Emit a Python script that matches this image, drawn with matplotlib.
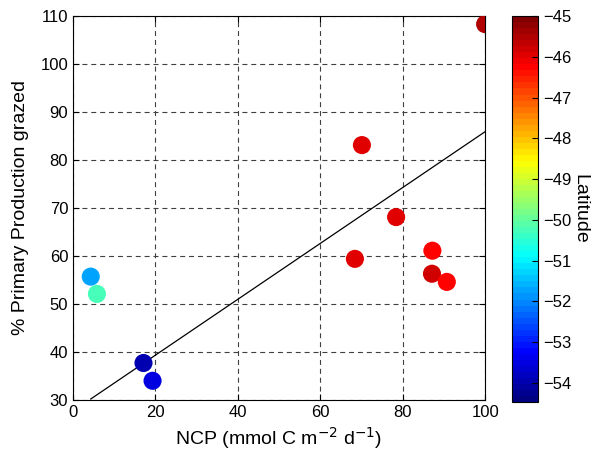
import numpy as np
import matplotlib.pyplot as plt
from matplotlib.colors import LinearSegmentedColormap

plt.rcParams['font.family'] = ['Liberation Sans', 'DejaVu Sans']

# data
ncp = [4.3, 5.8, 17.1, 19.3, 68.4, 70.1, 78.4, 87.2, 87.1, 90.7, 100.0]
grazed = [55.7, 52.1, 37.7, 34.0, 59.4, 83.1, 68.1, 61.1, 56.3, 54.6, 108.3]
latitude = [-51.8, -50.3, -53.95, -53.5, -45.9, -46.0, -46.0, -46.25, -45.8, -46.25, -45.45]

# regression line
slope = 0.582
intercept = 27.7

# MATLAB-style jet, 64 levels
matlab_jet = LinearSegmentedColormap.from_list(
    'matlab_jet',
    [(0, (0, 0, 0.5)), (1 / 8, (0, 0, 1)), (3 / 8, (0, 1, 1)),
     (5 / 8, (1, 1, 0)), (7 / 8, (1, 0, 0)), (1, (0.5, 0, 0))], N=64)

fig = plt.figure(figsize=(5.99, 4.54), dpi=100)
ax = fig.add_axes([0.1219, 0.119, 0.688, 0.8458])
cax = fig.add_axes([0.8548, 0.1145, 0.0434, 0.850])

sc = ax.scatter(ncp, grazed, c=latitude, cmap=matlab_jet, vmin=-54.47, vmax=-45,
                s=170, edgecolors='none', zorder=3)

xl = np.array([min(ncp), max(ncp)])
ax.plot(xl, intercept + slope * xl, color='black', lw=0.9, zorder=2)

ax.set_xlim(0, 100)
ax.set_ylim(30, 110)
ax.set_xticks(np.arange(0, 101, 20))
ax.set_yticks(np.arange(30, 111, 10))
ax.grid(True, color='0.25', linestyle=(0, (4.5, 3.5)), linewidth=0.8)
ax.tick_params(direction='in', top=True, right=True, labelsize=12, length=4)
ax.set_xlabel('NCP (mmol C m$^{-2}$ d$^{-1}$)', fontsize=14, labelpad=4)
ax.set_ylabel('% Primary Production grazed', fontsize=14, labelpad=8)

cb = fig.colorbar(sc, cax=cax)
cb.set_ticks(np.arange(-54, -44, 1))
cb.ax.set_yticklabels(['\u2212%d' % -t for t in range(-54, -44)])
cb.ax.tick_params(direction='in', labelsize=12, length=4)
cb.set_label('Latitude', fontsize=14, rotation=270, labelpad=12)
cb.outline.set_linewidth(0.8)

plt.savefig('out.png', dpi=100)
